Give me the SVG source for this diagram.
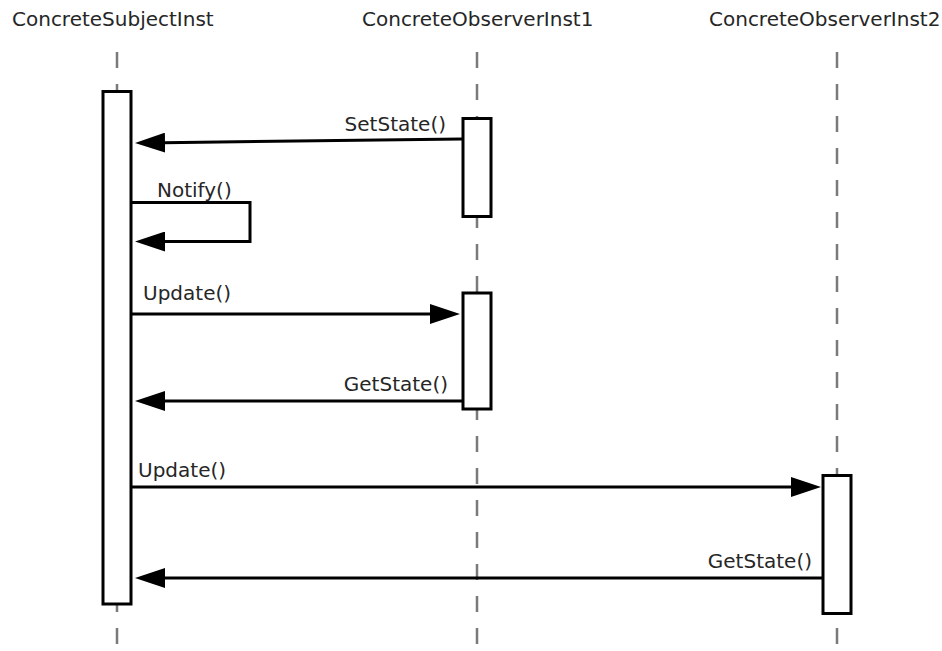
<svg xmlns="http://www.w3.org/2000/svg" width="942" height="651" viewBox="0 0 942 651">
  <style>
    .lbl { font-family: "DejaVu Sans", "Liberation Sans", sans-serif; font-size: 20px; fill: #262626; }
    .life { stroke: #7a7a7a; stroke-width: 2.5; stroke-dasharray: 16 16; fill: none; }
    .act { fill: #ffffff; stroke: #000000; stroke-width: 3; }
    .msg { stroke: #000000; stroke-width: 3; fill: none; marker-end: url(#arrow); }
  </style>
  <defs>
    <marker id="arrow" markerUnits="userSpaceOnUse" markerWidth="30" markerHeight="20" viewBox="0 0 30 20" refX="20" refY="10" orient="auto">
      <path d="M0,0 L30,10 L0,20 Z" fill="#000000"/>
    </marker>
  </defs>
  <rect width="942" height="651" fill="#ffffff"/>

  <!-- lifelines -->
  <g id="lifelines">
    <line class="life" x1="117" y1="52" x2="117" y2="646"/>
    <line class="life" x1="477" y1="52" x2="477" y2="646"/>
    <line class="life" x1="837" y1="52" x2="837" y2="646"/>
  </g>

  <!-- participants with their activation bars -->
  <g id="subject">
    <text class="lbl" x="12" y="26">ConcreteSubjectInst</text>
    <rect class="act" x="103" y="91.5" width="28" height="512.5"/>
  </g>
  <g id="observer1">
    <text class="lbl" x="362" y="26">ConcreteObserverInst1</text>
    <rect class="act" x="463" y="118.5" width="28" height="98"/>
    <rect class="act" x="463" y="293" width="28" height="116"/>
  </g>
  <g id="observer2">
    <text class="lbl" x="709" y="26">ConcreteObserverInst2</text>
    <rect class="act" x="823" y="475.5" width="28" height="138"/>
  </g>

  <!-- messages -->
  <g id="messages">
    <line class="msg" x1="462" y1="139" x2="145" y2="142.9"/>
    <path class="msg" d="M131,202.5 H250 V241.5 H145"/>
    <line class="msg" x1="131" y1="314" x2="450" y2="314"/>
    <line class="msg" x1="462" y1="401" x2="145" y2="401"/>
    <line class="msg" x1="131" y1="487" x2="811" y2="487"/>
    <line class="msg" x1="822" y1="578" x2="145" y2="578"/>
  </g>
  <g id="message-labels">
    <text class="lbl" x="446" y="131" text-anchor="end">SetState()</text>
    <text class="lbl" x="157" y="197">Notify()</text>
    <text class="lbl" x="143" y="300">Update()</text>
    <text class="lbl" x="448" y="391" text-anchor="end">GetState()</text>
    <text class="lbl" x="138" y="477">Update()</text>
    <text class="lbl" x="812" y="568" text-anchor="end">GetState()</text>
  </g>
</svg>
